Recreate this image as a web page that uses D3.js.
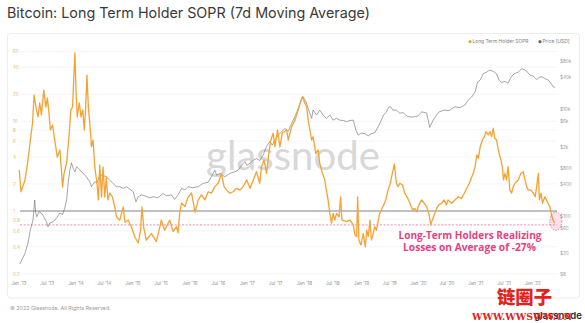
<!DOCTYPE html>
<html><head><meta charset="utf-8">
<script src="https://cdn.jsdelivr.net/npm/d3@7"></script>
<style>html,body{margin:0;padding:0;background:#fff;} svg{display:block;font-family:Inter,"Open Sans",sans-serif;}</style>
</head><body><svg id="c" width="585" height="323"></svg>
<script>
const soprDates = ["2013-01-07","2013-01-18","2013-02-13","2013-03-04","2013-03-19","2013-04-02","2013-04-12","2013-04-27","2013-05-07","2013-05-18","2013-05-29","2013-06-13","2013-06-26","2013-07-06","2013-07-16","2013-07-25","2013-08-08","2013-08-22","2013-09-07","2013-09-24","2013-10-05","2013-10-11","2013-10-21","2013-11-06","2013-11-23","2013-12-03","2013-12-14","2013-12-22","2013-12-29","2014-01-05","2014-01-13","2014-01-26","2014-02-06","2014-02-17","2014-02-27","2014-03-08","2014-03-16","2014-03-25","2014-04-03","2014-04-14","2014-04-24","2014-05-05","2014-05-19","2014-05-28","2014-06-06","2014-06-17","2014-06-27","2014-07-08","2014-07-18","2014-07-28","2014-08-09","2014-08-26","2014-09-10","2014-09-21","2014-10-12","2014-11-03","2014-11-14","2014-12-05","2014-12-26","2015-01-17","2015-02-07","2015-02-22","2015-03-03","2015-03-14","2015-03-30","2015-05-02","2015-06-03","2015-07-05","2015-07-26","2015-08-27","2015-09-18","2015-10-09","2015-10-20","2015-10-30","2015-11-11","2015-12-02","2015-12-23","2016-01-14","2016-02-05","2016-02-26","2016-03-17","2016-04-08","2016-04-29","2016-05-20","2016-06-11","2016-07-02","2016-07-23","2016-08-09","2016-08-25","2016-09-15","2016-10-06","2016-10-28","2016-11-18","2016-12-09","2017-01-01","2017-01-22","2017-02-12","2017-03-04","2017-03-25","2017-04-05","2017-04-22","2017-05-07","2017-05-22","2017-06-04","2017-06-19","2017-06-30","2017-07-17","2017-08-01","2017-08-16","2017-09-13","2017-09-23","2017-10-15","2017-11-05","2017-11-26","2017-12-11","2017-12-24","2018-01-08","2018-01-19","2018-01-29","2018-02-09","2018-02-20","2018-03-01","2018-03-18","2018-04-02","2018-04-13","2018-04-30","2018-05-15","2018-05-25","2018-06-05","2018-06-16","2018-06-27","2018-07-07","2018-07-18","2018-07-29","2018-08-15","2018-08-24","2018-09-02","2018-10-02","2018-10-23","2018-11-13","2018-11-24","2018-12-05","2018-12-11","2018-12-19","2019-01-01","2019-01-16","2019-01-29","2019-02-07","2019-02-17","2019-02-28","2019-03-09","2019-03-19","2019-03-30","2019-04-10","2019-04-21","2019-05-01","2019-05-22","2019-06-09","2019-06-23","2019-07-08","2019-07-21","2019-08-03","2019-08-16","2019-08-26","2019-09-07","2019-09-24","2019-10-08","2019-10-23","2019-11-10","2019-11-27","2019-12-11","2019-12-26","2020-01-02","2020-01-24","2020-02-10","2020-02-25","2020-03-10","2020-03-23","2020-04-01","2020-04-14","2020-04-29","2020-05-13","2020-05-30","2020-06-16","2020-07-01","2020-07-11","2020-08-03","2020-08-24","2020-09-15","2020-10-06","2020-10-23","2020-11-08","2020-11-24","2020-12-10","2020-12-20","2020-12-31","2021-01-11","2021-01-21","2021-02-02","2021-02-16","2021-03-01","2021-03-10","2021-03-25","2021-04-05","2021-04-16","2021-04-26","2021-05-06","2021-05-17","2021-06-02","2021-06-14","2021-06-23","2021-07-01","2021-07-10","2021-07-20","2021-07-30","2021-08-11","2021-08-22","2021-09-01","2021-09-12","2021-10-03","2021-10-20","2021-11-04","2021-11-15","2021-11-26","2021-12-06","2021-12-23","2022-01-08","2022-01-19","2022-01-29","2022-02-09","2022-02-15","2022-02-26","2022-03-07","2022-03-22","2022-04-02","2022-04-12","2022-04-23","2022-05-04","2022-05-14","2022-05-25"];
const soprValues = [2.86,1.64,2.22,3.70,6.19,9.57,19.6,13.4,11.2,16.0,11.8,22.3,14.4,18.2,12.4,8.0,9.1,6.2,4.0,4.8,2.65,1.85,2.65,3.43,7.4,13.4,14.4,31,57.7,22.3,11.2,16.0,11.2,13.4,8.0,14.4,32.8,14.4,9.6,5.2,6.2,3.1,2.05,1.33,3.26,1.43,3.1,1.43,2.4,1.33,1.59,1.43,1.11,0.86,0.79,1.11,0.75,0.79,0.66,0.51,0.44,0.61,1.11,0.66,0.475,0.56,0.455,0.79,0.61,0.79,0.59,0.67,0.57,0.95,1.23,1.12,1.43,1.59,0.97,1.33,1.51,1.33,1.63,1.58,1.87,2.04,2.63,1.87,1.71,1.58,1.64,1.79,1.71,1.87,2.22,1.79,2.22,2.74,2.04,3.12,3.70,2.63,4.40,6.19,7.35,5.21,8.0,5.17,7.4,8.0,6.19,8.7,10.3,13.4,16.6,18.8,15.9,14.5,10.3,8.0,6.19,6.74,4.40,4.79,3.40,2.63,2.22,1.71,1.33,0.94,0.73,0.94,0.79,0.94,0.86,1.44,0.79,0.76,0.79,0.70,0.54,0.52,1.44,0.475,0.418,0.56,0.40,0.61,0.52,0.79,0.475,0.54,0.67,0.61,0.76,0.94,1.12,1.33,1.71,2.04,2.63,3.34,2.04,1.87,2.04,1.95,1.58,1.44,1.22,1.03,1.07,0.98,1.12,1.33,1.22,1.12,0.94,0.70,0.79,0.90,1.07,1.17,1.22,1.33,1.17,1.33,1.22,1.33,1.44,1.38,1.58,1.79,2.04,2.41,2.63,3.12,4.21,3.87,5.21,6.19,6.74,7.67,7.04,7.67,6.74,8.36,6.45,6.19,4.40,3.70,3.12,2.22,2.63,2.22,3.12,1.71,1.58,1.87,2.04,2.22,2.63,2.74,2.22,1.87,1.71,1.71,1.58,1.44,1.87,2.63,1.33,1.58,1.22,1.44,1.33,1.22,1.12,0.90,0.79,0.73];
const priceDates = ["2013-01-11","2013-02-13","2013-03-04","2013-03-19","2013-04-05","2013-04-16","2013-04-22","2013-04-30","2013-05-13","2013-05-29","2013-06-13","2013-06-30","2013-07-10","2013-07-21","2013-08-12","2013-09-03","2013-09-24","2013-10-11","2013-10-25","2013-11-06","2013-11-16","2013-11-27","2013-12-07","2013-12-18","2013-12-29","2014-01-09","2014-01-30","2014-02-20","2014-03-12","2014-04-03","2014-04-14","2014-05-05","2014-05-19","2014-06-06","2014-06-27","2014-07-18","2014-08-09","2014-08-30","2014-09-21","2014-10-12","2014-11-03","2014-11-24","2014-12-15","2015-01-06","2015-01-23","2015-02-07","2015-02-28","2015-03-20","2015-04-21","2015-05-15","2015-06-13","2015-07-15","2015-08-06","2015-09-07","2015-09-28","2015-10-20","2015-11-11","2015-12-02","2015-12-23","2016-01-20","2016-02-26","2016-03-27","2016-04-29","2016-05-20","2016-06-11","2016-06-22","2016-07-13","2016-08-14","2016-09-15","2016-10-17","2016-11-08","2016-11-29","2016-12-20","2017-01-01","2017-01-22","2017-02-12","2017-03-04","2017-03-25","2017-04-16","2017-05-07","2017-05-28","2017-06-13","2017-06-30","2017-07-20","2017-08-11","2017-09-02","2017-09-23","2017-10-15","2017-11-05","2017-11-26","2017-12-18","2017-12-28","2018-01-15","2018-01-29","2018-02-20","2018-03-01","2018-03-22","2018-04-13","2018-05-04","2018-05-25","2018-06-16","2018-07-07","2018-07-29","2018-08-19","2018-09-10","2018-10-02","2018-10-23","2018-11-13","2018-11-30","2018-12-14","2019-01-06","2019-01-27","2019-02-17","2019-03-09","2019-03-30","2019-04-21","2019-05-12","2019-05-26","2019-06-13","2019-06-30","2019-07-10","2019-07-24","2019-08-16","2019-09-07","2019-09-28","2019-10-15","2019-10-29","2019-11-21","2019-12-11","2020-01-02","2020-01-24","2020-02-25","2020-03-16","2020-04-07","2020-04-29","2020-05-15","2020-06-16","2020-07-18","2020-08-24","2020-09-25","2020-10-27","2020-11-17","2020-12-10","2020-12-31","2021-01-17","2021-02-02","2021-02-22","2021-03-14","2021-04-05","2021-04-26","2021-05-17","2021-06-02","2021-06-17","2021-07-10","2021-07-30","2021-08-17","2021-09-08","2021-10-03","2021-10-25","2021-11-11","2021-11-26","2021-12-17","2022-01-08","2022-01-29","2022-02-15","2022-03-02","2022-03-22","2022-04-12","2022-04-30","2022-05-14","2022-05-26"];
const priceValues = [12.6,20,31,55,84,200,114,97,120,114,97,78,63,74,78,92,114,107,140,200,416,729,1000,790,680,840,729,630,545,440,355,440,416,588,580,545,474,410,355,355,330,355,320,285,185,230,250,240,220,230,220,265,240,250,205,250,330,310,355,340,355,410,430,545,729,580,630,545,630,680,729,900,1050,900,970,1120,1200,1100,1400,2000,2500,2150,2670,3300,3800,4400,3900,5500,7300,10400,16000,17200,13900,10400,6800,9740,7850,9700,7850,6800,7850,6320,6800,6300,6200,5900,6200,6300,4100,3300,3600,3500,3200,3500,3650,4700,6300,7850,9000,11200,11200,9700,9700,8500,8700,7850,7300,7200,7300,7600,9000,8600,4600,6300,7850,9000,9740,9500,11200,10800,12100,15000,17200,21400,33000,35600,47000,50000,54800,52000,47000,35600,32000,33500,31000,40000,47000,50000,58000,56000,52000,44200,42000,36500,40000,41000,38000,35600,31000,26500,26000];
const soprTicks = [0.2,0.4,0.6,0.8,1,2,4,6,8,10,20,40,60];
const priceTicks = [8,20,60,100,400,800,2000,6000,10000,40000,80000];
const priceTickLabels = ["$8","$20","$60","$100","$400","$800","$2k","$6k","$10k","$40k","$80k"];
const breakEven = 1;
const avgLossLevel = 0.70;
const titleText = "Bitcoin: Long Term Holder SOPR (7d Moving Average)";
const seriesNames = ["Long Term Holder SOPR", "Price [USD]"];
const annotationLines = ["Long-Term Holders Realizing", "Losses on Average of -27%"];
const footerText = "\u00a9 2022 Glassnode. All Rights Reserved.";

const parse = d3.timeParse("%Y-%m-%d");
const sopr = soprDates.map((d, i) => ({date: parse(d), v: soprValues[i]}));
const price = priceDates.map((d, i) => ({date: parse(d), v: priceValues[i]}));

const ORANGE = "#f5a233", PINK = "#e9417f";
const svg = d3.select("#c");

function fit(sel, w) {
  const n = sel.node(); const fs = parseFloat(sel.attr("font-size"));
  const cur = n.getComputedTextLength(); if (cur > 0) sel.attr("font-size", fs * w / cur);
}

// title
fit(svg.append("text").attr("x", 7).attr("y", 17.5).attr("font-size", 15).attr("fill", "#3a3a3a").text(titleText), 363);

// card
svg.append("rect").attr("x", 7.5).attr("y", 33.5).attr("width", 572).attr("height", 264.5)
  .attr("rx", 3).attr("fill", "#fff").attr("stroke", "#ececec");

const x = d3.scaleTime().domain([new Date(2013, 0, 1), new Date(2022, 0, 1)]).range([18.3, 532.3]);
const yL = d3.scaleLog().domain([0.2, 60]).range([273.7, 51.5]);
const yR = d3.scaleLog().domain([8, 80000]).range([274.5, 61.3]);
const gx0 = 20, gx1 = 557;

// gridlines
svg.append("g").selectAll("line").data(soprTicks).join("line")
  .attr("x1", gx0).attr("x2", gx1).attr("y1", d => yL(d)).attr("y2", d => yL(d))
  .attr("stroke", "#f0f0f0").attr("stroke-width", 0.7);

// watermark
fit(svg.append("text").attr("x", 206).attr("y", 170).attr("font-size", 42)
  .attr("font-family", "Lato, sans-serif").attr("fill", "#d8d8d8").text("glassnode"), 174);

// reference lines
svg.append("line").attr("x1", gx0).attr("x2", gx1).attr("y1", yL(breakEven)).attr("y2", yL(breakEven))
  .attr("stroke", "#7a7a7a").attr("stroke-width", 0.9);
svg.append("line").attr("x1", gx0).attr("x2", gx1).attr("y1", yL(avgLossLevel)).attr("y2", yL(avgLossLevel))
  .attr("stroke", "#f06a9a").attr("stroke-width", 0.8).attr("stroke-dasharray", "2,1.6");

// left axis
const axL = svg.append("g").attr("transform", "translate(13,0)")
  .call(d3.axisLeft(yL).tickValues(soprTicks).tickFormat(d3.format("~g")).tickSize(0).tickPadding(0));
axL.select(".domain").remove();
axL.selectAll("text").attr("text-anchor", "start").attr("x", 0).attr("font-size", 4.6)
  .attr("fill", "#ebb873").attr("font-family", "Inter, sans-serif");

// right axis
const axR = svg.append("g").attr("transform", "translate(560,0)")
  .call(d3.axisRight(yR).tickValues(priceTicks).tickFormat((d, i) => priceTickLabels[i]).tickSize(0).tickPadding(0));
axR.select(".domain").remove();
axR.selectAll("text").attr("text-anchor", "start").attr("x", 0).attr("font-size", 4.6)
  .attr("fill", "#9a9a9a").attr("font-family", "Inter, sans-serif");

// x axis
const xTicks = d3.timeMonth.every(6).range(new Date(2013, 0, 1), new Date(2022, 0, 2));
const axX = svg.append("g").attr("transform", "translate(0,283.5)")
  .call(d3.axisBottom(x).tickValues(xTicks).tickFormat(d3.timeFormat("%b '%y")).tickSize(0).tickPadding(0));
axX.select(".domain").remove();
axX.selectAll("text").attr("y", 0).attr("dy", "0.35em").attr("font-size", 4.6)
  .attr("fill", "#8e8e8e").attr("font-family", "Inter, sans-serif");

// series
svg.append("path").datum(price).attr("fill", "none").attr("stroke", "#6a6a6a").attr("stroke-width", 0.6)
  .attr("d", d3.line().x(d => x(d.date)).y(d => yR(d.v)));
svg.append("path").datum(sopr).attr("fill", "none").attr("stroke", ORANGE).attr("stroke-width", 1.3)
  .attr("stroke-linejoin", "round")
  .attr("d", d3.line().x(d => x(d.date)).y(d => yL(d.v)));

// highlight ellipse at last point
const last = sopr[sopr.length - 1];
svg.append("ellipse").attr("cx", x(last.date) + 1).attr("cy", yL(last.v) - 2).attr("rx", 6).attr("ry", 9)
  .attr("fill", "rgba(240,98,146,0.18)").attr("stroke", "#f06292").attr("stroke-width", 0.8)
  .attr("stroke-dasharray", "1.5,1.2");

// annotation
const ann = [[470, 238.8, 143], [469.5, 250.6, 133]];
annotationLines.forEach((t, i) => {
  fit(svg.append("text").attr("x", ann[i][0]).attr("y", ann[i][1]).attr("text-anchor", "middle")
    .attr("font-size", 10).attr("font-weight", 700).attr("font-family", "'Open Sans', sans-serif")
    .attr("fill", PINK).text(t), ann[i][2]);
});

// legend
const lg = svg.append("g").attr("font-size", 4.8).attr("fill", "#808080");
lg.append("circle").attr("cx", 470).attr("cy", 41.7).attr("r", 1.6).attr("fill", ORANGE);
fit(lg.append("text").attr("x", 472.5).attr("y", 41.7).attr("dy", "0.35em").attr("font-size", 4.8).text(seriesNames[0]), 56);
lg.append("circle").attr("cx", 540).attr("cy", 41.7).attr("r", 1.6).attr("fill", "#6a6a6a");
fit(lg.append("text").attr("x", 542.5).attr("y", 41.7).attr("dy", "0.35em").attr("font-size", 4.8).text(seriesNames[1]), 27);

// footer
fit(svg.append("text").attr("x", 10).attr("y", 309.5).attr("font-size", 5.3).attr("fill", "#9a9a9a").text(footerText), 101);
fit(svg.append("text").attr("x", 534).attr("y", 319).attr("font-size", 11).attr("font-weight", 600)
  .attr("fill", "#2a2a2a").text("glassnode"), 48);

// third-party watermark present in the reference image
fit(svg.append("text").attr("x", 497).attr("y", 303.5).attr("font-size", 18).attr("font-weight", 900)
  .attr("font-family", "'Noto Sans CJK SC', sans-serif").attr("fill", "#e2231a").text("链圈子"), 55);
fit(svg.append("text").attr("x", 472).attr("y", 319.5).attr("font-size", 11).attr("font-weight", 700)
  .attr("font-family", "'DejaVu Serif', serif").attr("fill", "#e2231a").text("WWW.WWSWW.CN"), 100);
</script></body></html>
